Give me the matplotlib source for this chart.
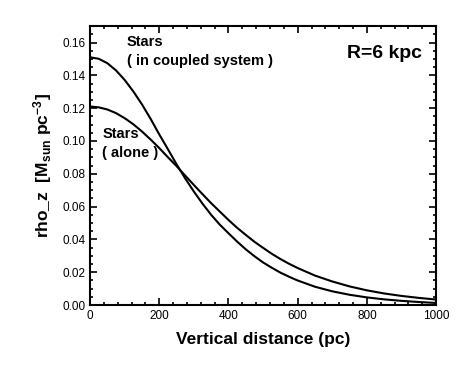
import matplotlib
matplotlib.use('Agg')
import matplotlib.pyplot as plt
from matplotlib.ticker import MultipleLocator

plt.rcParams['font.family'] = ['Liberation Sans', 'DejaVu Sans']
plt.rcParams['mathtext.fontset'] = 'custom'
plt.rcParams['mathtext.rm'] = 'Liberation Sans:bold'
plt.rcParams['mathtext.it'] = 'Liberation Sans:bold'
plt.rcParams['mathtext.bf'] = 'Liberation Sans:bold'

# --- DATA ---
z_pc = [0, 25, 50, 75, 100, 125, 150, 175, 200, 225, 250, 275, 300,
        325, 350, 375, 400, 425, 450, 475, 500, 525, 550, 575, 600,
        650, 700, 750, 800, 850, 900, 950, 1000]
rho_coupled = [0.1510, 0.1501, 0.1474, 0.1430, 0.1372, 0.1302, 0.1223, 0.1135,
               0.1040, 0.0950, 0.0858, 0.0772, 0.0692, 0.0618, 0.0550, 0.0490,
               0.0438, 0.0387, 0.0340, 0.0298, 0.0260, 0.0228, 0.0198, 0.0173,
               0.0150, 0.0112, 0.0084, 0.0063, 0.0047, 0.0035, 0.0026, 0.0019,
               0.0013]
rho_alone = [0.1210, 0.1205, 0.1192, 0.1170, 0.1139, 0.1102, 0.1058, 0.1009,
             0.0957, 0.0901, 0.0847, 0.0789, 0.0732, 0.0676, 0.0621, 0.0570,
             0.0519, 0.0471, 0.0428, 0.0386, 0.0349, 0.0313, 0.0281, 0.0252,
             0.0226, 0.0180, 0.0144, 0.0114, 0.0090, 0.0071, 0.0056, 0.0044,
             0.0034]

fig = plt.figure(figsize=(4.74, 3.73), dpi=100)
ax = fig.add_axes([0.190, 0.182, 0.730, 0.748])

ax.plot(z_pc, rho_coupled, color='black', linewidth=1.5)
ax.plot(z_pc, rho_alone, color='black', linewidth=1.5)

ax.set_xlim(0, 1000)
ax.set_ylim(0, 0.17)
ax.xaxis.set_major_locator(MultipleLocator(200))
ax.xaxis.set_minor_locator(MultipleLocator(40))
ax.yaxis.set_major_locator(MultipleLocator(0.02))
ax.yaxis.set_minor_locator(MultipleLocator(0.005))
ax.yaxis.set_major_formatter(plt.FormatStrFormatter('%.2f'))

ax.tick_params(which='both', direction='in', top=True, right=True, width=1.2)
ax.tick_params(which='major', length=5, labelsize=8.5)
ax.tick_params(which='minor', length=2.5)
for s in ax.spines.values():
    s.set_linewidth(1.5)

ax.set_xlabel('Vertical distance (pc)', fontsize=12.5, fontweight='bold', labelpad=7)
ax.set_ylabel(r'rho_z  [M$_{\rm sun}$ pc$^{-3}$]', fontsize=12.5, fontweight='bold', labelpad=6)

ax.text(107, 0.1605, 'Stars', fontsize=10.5, fontweight='bold', va='center')
ax.text(107, 0.1490, '( in coupled system )', fontsize=10.5, fontweight='bold', va='center')
ax.text(35, 0.1040, 'Stars', fontsize=10.5, fontweight='bold', va='center')
ax.text(35, 0.0925, '( alone )', fontsize=10.5, fontweight='bold', va='center')
ax.text(960, 0.1535, 'R=6 kpc', fontsize=14, fontweight='bold', ha='right', va='center')

fig.savefig('out.png', dpi=100)
